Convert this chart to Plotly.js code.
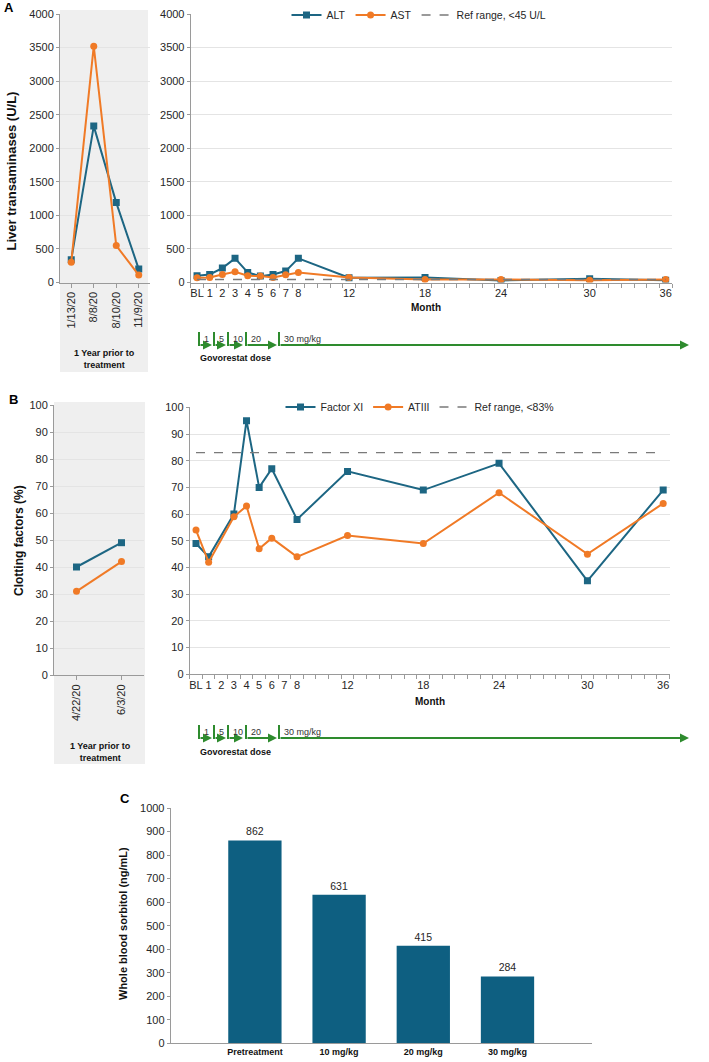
<!DOCTYPE html>
<html>
<head>
<meta charset="utf-8">
<script src="https://cdn.plot.ly/plotly-3.0.1.min.js"></script>
<style>
  html, body { margin: 0; padding: 0; background: #fff; }
  #chart { width: 709px; height: 1062px; }
</style>
</head>
<body>
<div id="chart"></div>
<script>
// ---- Panel A: liver transaminases ----
const preDatesA = ['1/13/20', '8/8/20', '8/10/20', '11/9/20'];
const preALT = [340, 2330, 1190, 200];
const preAST = [300, 3520, 550, 110];

const monthLabels = ['BL', '1', '2', '3', '4', '5', '6', '7', '8', '12', '18', '24', '30', '36'];
const monthSlot = [0, 1, 2, 3, 4, 5, 6, 7, 8, 12, 18, 24, 31, 37];
const ALT = [100, 120, 215, 360, 150, 95, 120, 170, 360, 70, 75, 30, 55, 35];
const AST = [70, 75, 120, 160, 100, 95, 75, 115, 150, 75, 45, 45, 35, 45];
const altRefLimit = 45;

// ---- Panel B: clotting factors ----
const preDatesB = ['4/22/20', '6/3/20'];
const preFactorXI = [40, 49];
const preATIII = [31, 42];
const factorXI = [49, 44, null, 60, 95, 70, 77, null, 58, 76, 69, 79, 35, 69];
const ATIII = [54, 42, null, 59, 63, 47, 51, null, 44, 52, 49, 68, 45, 64];
const clotRefLimit = 83;

// ---- Panel C: whole blood sorbitol ----
const sorbitolGroups = ['Pretreatment', '10 mg/kg', '20 mg/kg', '30 mg/kg'];
const sorbitol = [862, 631, 415, 284];

// ---- Govorestat dose escalation (mg/kg) ----
const doseSteps = [1, 5, 10, 20, 30];

// ---- page geometry (pixels) ----
const W = 709, H = 1062;
const X = p => p / W;
const Y = p => 1 - p / H;
const FONT = 'Liberation Sans, Arial, Helvetica, sans-serif';
const TEAL = '#1d6683';
const ORANGE = '#f07a26';
const BAR = '#0e5f81';
const GREEN = '#2e8b2e';
const AXIS = '#9a9a9a';
const TXT = '#262626';

const doseBarX = [199, 214, 228, 246, 279];
const doseArrowEnd = [212, 226, 243, 277, 689];
const doseRows = [
  { top: 332, line: 345, caption: 358 },
  { top: 725, line: 738, caption: 752 }
];

const lineTrace = (x, y, color, symbol, xa, ya, extra) => Object.assign({
  x: x, y: y, xaxis: xa, yaxis: ya, type: 'scatter', mode: 'lines+markers',
  line: { color: color, width: 2 },
  marker: { color: color, symbol: symbol, size: 7 },
  connectgaps: true, showlegend: false, hoverinfo: 'x+y'
}, extra || {});

const refTrace = (limit, name, xa, ya, legend) => ({
  x: [monthSlot[0], monthSlot[monthSlot.length - 1]], y: [limit, limit],
  xaxis: xa, yaxis: ya, type: 'scatter', mode: 'lines', name: name,
  line: { color: '#7a7a7a', width: 1.3, dash: 'dash' }, legend: legend, showlegend: true
});

const data = [
  lineTrace(preDatesA, preALT, TEAL, 'square', 'x', 'y'),
  lineTrace(preDatesA, preAST, ORANGE, 'circle', 'x', 'y'),
  lineTrace(monthSlot, ALT, TEAL, 'square', 'x2', 'y2', { name: 'ALT', showlegend: true, legend: 'legend' }),
  lineTrace(monthSlot, AST, ORANGE, 'circle', 'x2', 'y2', { name: 'AST', showlegend: true, legend: 'legend' }),
  refTrace(altRefLimit, 'Ref range, <' + altRefLimit + ' U/L', 'x2', 'y2', 'legend'),

  lineTrace(preDatesB, preFactorXI, TEAL, 'square', 'x3', 'y3'),
  lineTrace(preDatesB, preATIII, ORANGE, 'circle', 'x3', 'y3'),
  lineTrace(monthSlot, factorXI, TEAL, 'square', 'x4', 'y4', { name: 'Factor XI', showlegend: true, legend: 'legend2' }),
  lineTrace(monthSlot, ATIII, ORANGE, 'circle', 'x4', 'y4', { name: 'ATIII', showlegend: true, legend: 'legend2' }),
  refTrace(clotRefLimit, 'Ref range, <' + clotRefLimit + '%', 'x4', 'y4', 'legend2'),

  {
    x: sorbitolGroups, y: sorbitol, xaxis: 'x5', yaxis: 'y5', type: 'bar',
    marker: { color: BAR }, width: 0.633, showlegend: false,
    text: sorbitol.map(String), textposition: 'outside', cliponaxis: false,
    textfont: { family: FONT, size: 10.5, color: TXT }, hoverinfo: 'x+y'
  }
];

const tickFont = { family: FONT, size: 11, color: TXT };

const yAxis = (top, bottom, range, dtick, grid) => ({
  domain: [Y(bottom), Y(top)], range: range, dtick: dtick, tick0: 0,
  showline: true, linecolor: AXIS, linewidth: 1, ticks: 'outside', ticklen: 3, tickcolor: AXIS,
  showgrid: grid, gridcolor: '#e4e4e4', zeroline: false, tickfont: tickFont, fixedrange: true
});

const preXAxis = (left, right, n, anchor) => ({
  domain: [X(left), X(right)], type: 'category', range: [-0.5, n - 0.5], anchor: anchor,
  showline: true, linecolor: AXIS, ticks: 'outside', ticklen: 4, tickcolor: AXIS,
  tickangle: -90, tickfont: tickFont, showgrid: false, zeroline: false, fixedrange: true
});

const monthXAxis = (left, right, anchor) => ({
  domain: [X(left), X(right)], range: [-0.5, 37.5], anchor: anchor,
  tickmode: 'array', tickvals: monthSlot, ticktext: monthLabels, ticks: '',
  minor: { tick0: 0.5, dtick: 1, ticks: 'outside', ticklen: 4, tickcolor: AXIS, showgrid: false },
  showline: true, linecolor: AXIS, tickfont: tickFont, showgrid: false, zeroline: false, fixedrange: true
});

const ann = (x, y, text, opts) => Object.assign({
  xref: 'paper', yref: 'paper', x: X(x), y: Y(y), text: text, showarrow: false,
  xanchor: 'center', yanchor: 'middle',
  font: { family: FONT, size: 10, color: TXT }
}, opts || {});

const annotations = [
  ann(2, 8, 'A', { xanchor: 'left', font: { family: FONT, size: 13, color: '#000', weight: 'bold' } }),
  ann(7, 399, 'B', { xanchor: 'left', font: { family: FONT, size: 13, color: '#000', weight: 'bold' } }),
  ann(118, 798, 'C', { xanchor: 'left', font: { family: FONT, size: 13, color: '#000', weight: 'bold' } }),

  ann(10.5, 171, 'Liver transaminases (U/L)', { textangle: -90, font: { family: FONT, size: 13, color: '#111', weight: 'bold' } }),
  ann(19, 541, 'Clotting factors (%)', { textangle: -90, font: { family: FONT, size: 12, color: '#111', weight: 'bold' } }),
  ann(123, 924, 'Whole blood sorbitol (ng/mL)', { textangle: -90, font: { family: FONT, size: 11, color: '#111', weight: 'bold' } }),

  ann(104, 358.5, '1 Year prior to<br>treatment', { font: { family: FONT, size: 9, color: '#111', weight: 'bold' } }),
  ann(100, 751.5, '1 Year prior to<br>treatment', { font: { family: FONT, size: 9, color: '#111', weight: 'bold' } }),

  ann(426, 307.5, 'Month', { font: { family: FONT, size: 10, color: '#111', weight: 'bold' } }),
  ann(430, 701.5, 'Month', { font: { family: FONT, size: 10, color: '#111', weight: 'bold' } })
];

const shapes = [
  { type: 'rect', xref: 'paper', yref: 'paper', x0: X(60), x1: X(148), y0: Y(372), y1: Y(10),
    fillcolor: '#efefef', line: { width: 0 }, layer: 'below' },
  { type: 'rect', xref: 'paper', yref: 'paper', x0: X(54), x1: X(145), y0: Y(764), y1: Y(402),
    fillcolor: '#efefef', line: { width: 0 }, layer: 'below' }
];

// dose escalation markers: a tick at each step start, an arrow to the next step
doseRows.forEach(row => {
  doseSteps.forEach((dose, i) => {
    const x0 = doseBarX[i], x1 = doseArrowEnd[i];
    shapes.push({ type: 'line', xref: 'paper', yref: 'paper',
      x0: X(x0), x1: X(x0), y0: Y(row.top), y1: Y(row.line + 1),
      line: { color: GREEN, width: 2 } });
    annotations.push({ xref: 'paper', yref: 'paper', x: X(x1), y: Y(row.line), text: '',
      showarrow: true, ax: -(x1 - x0), ay: 0, arrowhead: 2, arrowsize: 0.9,
      arrowwidth: 2, arrowcolor: GREEN });
    const label = i === doseSteps.length - 1 ? dose + ' mg/kg' : String(dose);
    annotations.push(ann(x0 + 2.5, row.line - 6, label, { xanchor: 'left',
      font: { family: FONT, size: 9, color: '#333' } }));
  });
  annotations.push(ann(198, row.caption, 'Govorestat dose', { xanchor: 'left',
    font: { family: FONT, size: 9, color: '#111', weight: 'bold' } }));
});

const legendStyle = (cx, cy) => ({
  orientation: 'h', x: X(cx), xanchor: 'center', y: Y(cy), yanchor: 'middle',
  bgcolor: 'rgba(0,0,0,0)', font: { family: FONT, size: 10.5, color: TXT },
  itemwidth: 30, tracegroupgap: 0
});

const layout = {
  width: W, height: H, margin: { l: 0, r: 0, t: 0, b: 0 },
  paper_bgcolor: '#ffffff', plot_bgcolor: 'rgba(0,0,0,0)',
  font: { family: FONT, color: TXT },
  showlegend: true,
  legend: legendStyle(419, 15),
  legend2: legendStyle(420, 407),

  xaxis: preXAxis(60, 150, preDatesA.length, 'y'),
  yaxis: Object.assign(yAxis(14, 282.5, [0, 4000], 500, true), { anchor: 'x' }),
  xaxis2: monthXAxis(190.7, 672, 'y2'),
  yaxis2: Object.assign(yAxis(14, 282.5, [0, 4000], 500, true), { anchor: 'x2' }),

  xaxis3: preXAxis(54, 144, preDatesB.length, 'y3'),
  yaxis3: Object.assign(yAxis(405, 675, [0, 100], 10, true), { anchor: 'x3' }),
  xaxis4: monthXAxis(189.7, 669.5, 'y4'),
  yaxis4: Object.assign(yAxis(407.3, 674.3, [0, 100], 10, true), { anchor: 'x4' }),

  xaxis5: { domain: [X(170.7), X(591.7)], type: 'category', range: [-1, 4], anchor: 'y5',
    showline: true, linecolor: AXIS, ticks: '', showgrid: false, zeroline: false, fixedrange: true,
    tickfont: { family: FONT, size: 9, color: '#111', weight: 'bold' } },
  yaxis5: Object.assign(yAxis(808, 1043.3, [0, 1000], 100, false), { anchor: 'x5' }),

  annotations: annotations,
  shapes: shapes
};

Plotly.newPlot('chart', data, layout, { displayModeBar: false, staticPlot: true });
</script>
</body>
</html>
